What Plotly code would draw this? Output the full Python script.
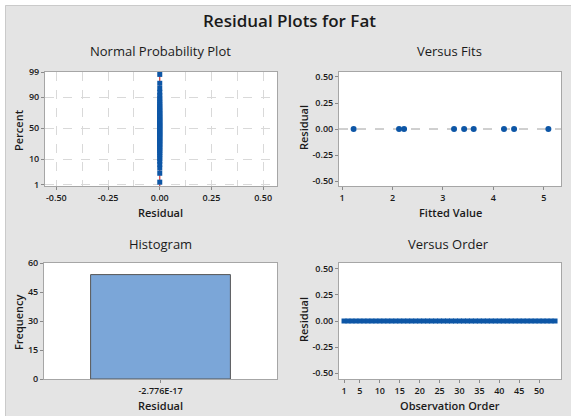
import plotly.graph_objects as go
from statistics import NormalDist

# ---------------- data ----------------
residuals = [0.0] * 54  # all residuals are ~0 (exact fit)
observation_order = list(range(1, 55))
fitted_values = [1.23, 2.13, 2.23, 3.22, 3.42, 3.61, 4.21, 4.41, 5.09]
fit_residuals = [0.0, 0.0, 0.0, 0.0, 0.0, 0.0, 0.0, 0.0, 0.0]
hist_bins = ["-2.776E-17"]
hist_counts = [54]
percent_ticks = [1, 10, 50, 90, 99]
order_ticks = [1, 5, 10, 15, 20, 25, 30, 35, 40, 45, 50]

W, H = 571, 416
nd = NormalDist()
n = len(residuals)
sorted_res = sorted(residuals)
npp_pct = [(i - 0.3) / (n + 0.4) for i in range(1, n + 1)]
npp_z = [nd.inv_cdf(p) for p in npp_pct]
tick_z = [nd.inv_cdf(p / 100) for p in percent_ticks]

BLUE = "#0d56a6"
FONT = "Open Sans"
TXT = "#1a1a1a"
BG = "#e4e4e4"


def px_x(p):
    return p / W


def px_y(p):
    return 1 - p / H


fig = go.Figure()

# Normal probability plot
fig.add_trace(go.Scatter(x=[0, 0], y=[-2.5, 2.5], mode="lines",
                         line=dict(color="#d03a3a", width=1.2),
                         xaxis="x", yaxis="y", showlegend=False))
fig.add_trace(go.Scatter(x=sorted_res, y=npp_z, mode="markers",
                         marker=dict(color=BLUE, size=5, symbol="square"),
                         xaxis="x", yaxis="y", showlegend=False))

# Versus fits
fig.add_trace(go.Scatter(x=[0.94, 5.34], y=[0, 0], mode="lines",
                         line=dict(color="#a0a0a0", width=1, dash="dash"),
                         xaxis="x2", yaxis="y2", showlegend=False))
fig.add_trace(go.Scatter(x=fitted_values, y=fit_residuals, mode="markers",
                         marker=dict(color=BLUE, size=6),
                         xaxis="x2", yaxis="y2", showlegend=False))

# Histogram
fig.add_trace(go.Bar(x=[0], y=hist_counts, width=0.6,
                     marker=dict(color="#7ba6d8", line=dict(color="#555555", width=1)),
                     xaxis="x3", yaxis="y3", showlegend=False))

# Versus order
fig.add_trace(go.Scatter(x=observation_order, y=residuals, mode="lines+markers",
                         line=dict(color=BLUE, width=2),
                         marker=dict(color=BLUE, size=5, symbol="square"),
                         xaxis="x4", yaxis="y4", showlegend=False))

axis_common = dict(showline=True, mirror=True, linecolor="#a6a6a6", linewidth=1,
                   ticks="outside", ticklen=3, tickcolor="#8a8a8a",
                   tickfont=dict(family=FONT, size=9, color=TXT, weight=600),
                   zeroline=False, showgrid=False, automargin=False)

GRID = "#d9d9d9"

fig.update_layout(
    width=W, height=H,
    margin=dict(l=0, r=0, t=0, b=0, autoexpand=False),
    paper_bgcolor=BG, plot_bgcolor="white",
    font=dict(family=FONT, color=TXT),
    xaxis=dict(axis_common, domain=[px_x(45), px_x(277)], range=[-0.555, 0.567],
               tickvals=[-0.5, -0.25, 0, 0.25, 0.5], ticktext=["-0.50", "-0.25", "0.00", "0.25", "0.50"],
               showgrid=True, gridcolor=GRID, griddash="dash",
               minor=dict(tickvals=[-0.375, -0.125, 0.125, 0.375], showgrid=True,
                          gridcolor=GRID, griddash="dash", ticks=""),
               anchor="y"),
    yaxis=dict(axis_common, domain=[px_y(186), px_y(72)], range=[-2.39, 2.33],
               tickvals=tick_z, ticktext=[str(t) for t in percent_ticks],
               showgrid=True, gridcolor=GRID, griddash="dash", anchor="x"),
    xaxis2=dict(axis_common, domain=[px_x(339), px_x(561)], range=[0.94, 5.34],
                tickvals=[1, 2, 3, 4, 5], anchor="y2"),
    yaxis2=dict(axis_common, domain=[px_y(186), px_y(72)], range=[-0.548, 0.548],
                tickvals=[-0.5, -0.25, 0, 0.25, 0.5], ticktext=["-0.50", "-0.25", "0.00", "0.25", "0.50"],
                anchor="x2"),
    xaxis3=dict(axis_common, domain=[px_x(44), px_x(277)], range=[-0.5, 0.5],
                tickvals=[0], ticktext=hist_bins, anchor="y3"),
    yaxis3=dict(axis_common, domain=[px_y(379), px_y(263)], range=[0, 60],
                tickvals=[0, 15, 30, 45, 60], anchor="x3"),
    xaxis4=dict(axis_common, domain=[px_x(339), px_x(561)], range=[-0.26, 55.5],
                tickvals=order_ticks, anchor="y4"),
    yaxis4=dict(axis_common, domain=[px_y(379), px_y(263)], range=[-0.557, 0.557],
                tickvals=[-0.5, -0.25, 0, 0.25, 0.5], ticktext=["-0.50", "-0.25", "0.00", "0.25", "0.50"],
                anchor="x4"),
    shapes=[
        dict(type="rect", xref="paper", yref="paper", layer="below",
             x0=0, x1=1, y0=px_y(5), y1=1, fillcolor="white", line=dict(width=0)),
        dict(type="rect", xref="paper", yref="paper", layer="below",
             x0=0, x1=px_x(5), y0=0, y1=1, fillcolor="white", line=dict(width=0)),
        dict(type="line", xref="paper", yref="paper", layer="below",
             x0=px_x(5.5), x1=1, y0=px_y(5.5), y1=px_y(5.5), line=dict(color="#cacaca", width=1)),
        dict(type="line", xref="paper", yref="paper", layer="below",
             x0=px_x(5.5), x1=px_x(5.5), y0=0, y1=px_y(5.5), line=dict(color="#cacaca", width=1)),
    ],
)


def ann(text, x, y, size, angle=0, weight="normal"):
    fig.add_annotation(text=text, x=px_x(x), y=px_y(y), xref="paper", yref="paper",
                       showarrow=False, textangle=angle, xanchor="center", yanchor="middle",
                       font=dict(family=FONT, size=size, color=TXT, weight=weight))


ann("Residual Plots for Fat", 289, 20, 17, weight=600)
ann("Normal Probability Plot", 160, 51, 13, weight=500)
ann("Versus Fits", 449, 51, 13, weight=500)
ann("Histogram", 160, 244, 13, weight=500)
ann("Versus Order", 448, 244, 13, weight=500)
ann("Residual", 160, 212, 11, weight=600)
ann("Fitted Value", 450, 212, 11, weight=600)
ann("Residual", 160, 405, 11, weight=600)
ann("Observation Order", 450, 405, 11, weight=600)
ann("Percent", 18, 130, 11, angle=-90, weight=600)
ann("Residual", 303, 128, 11, angle=-90, weight=600)
ann("Frequency", 18, 322, 11, angle=-90, weight=600)
ann("Residual", 303, 320, 11, angle=-90, weight=600)

fig.write_html("out.html", config={"displayModeBar": False},
               post_script="document.body.style.margin='0';document.body.style.overflow='hidden';")
